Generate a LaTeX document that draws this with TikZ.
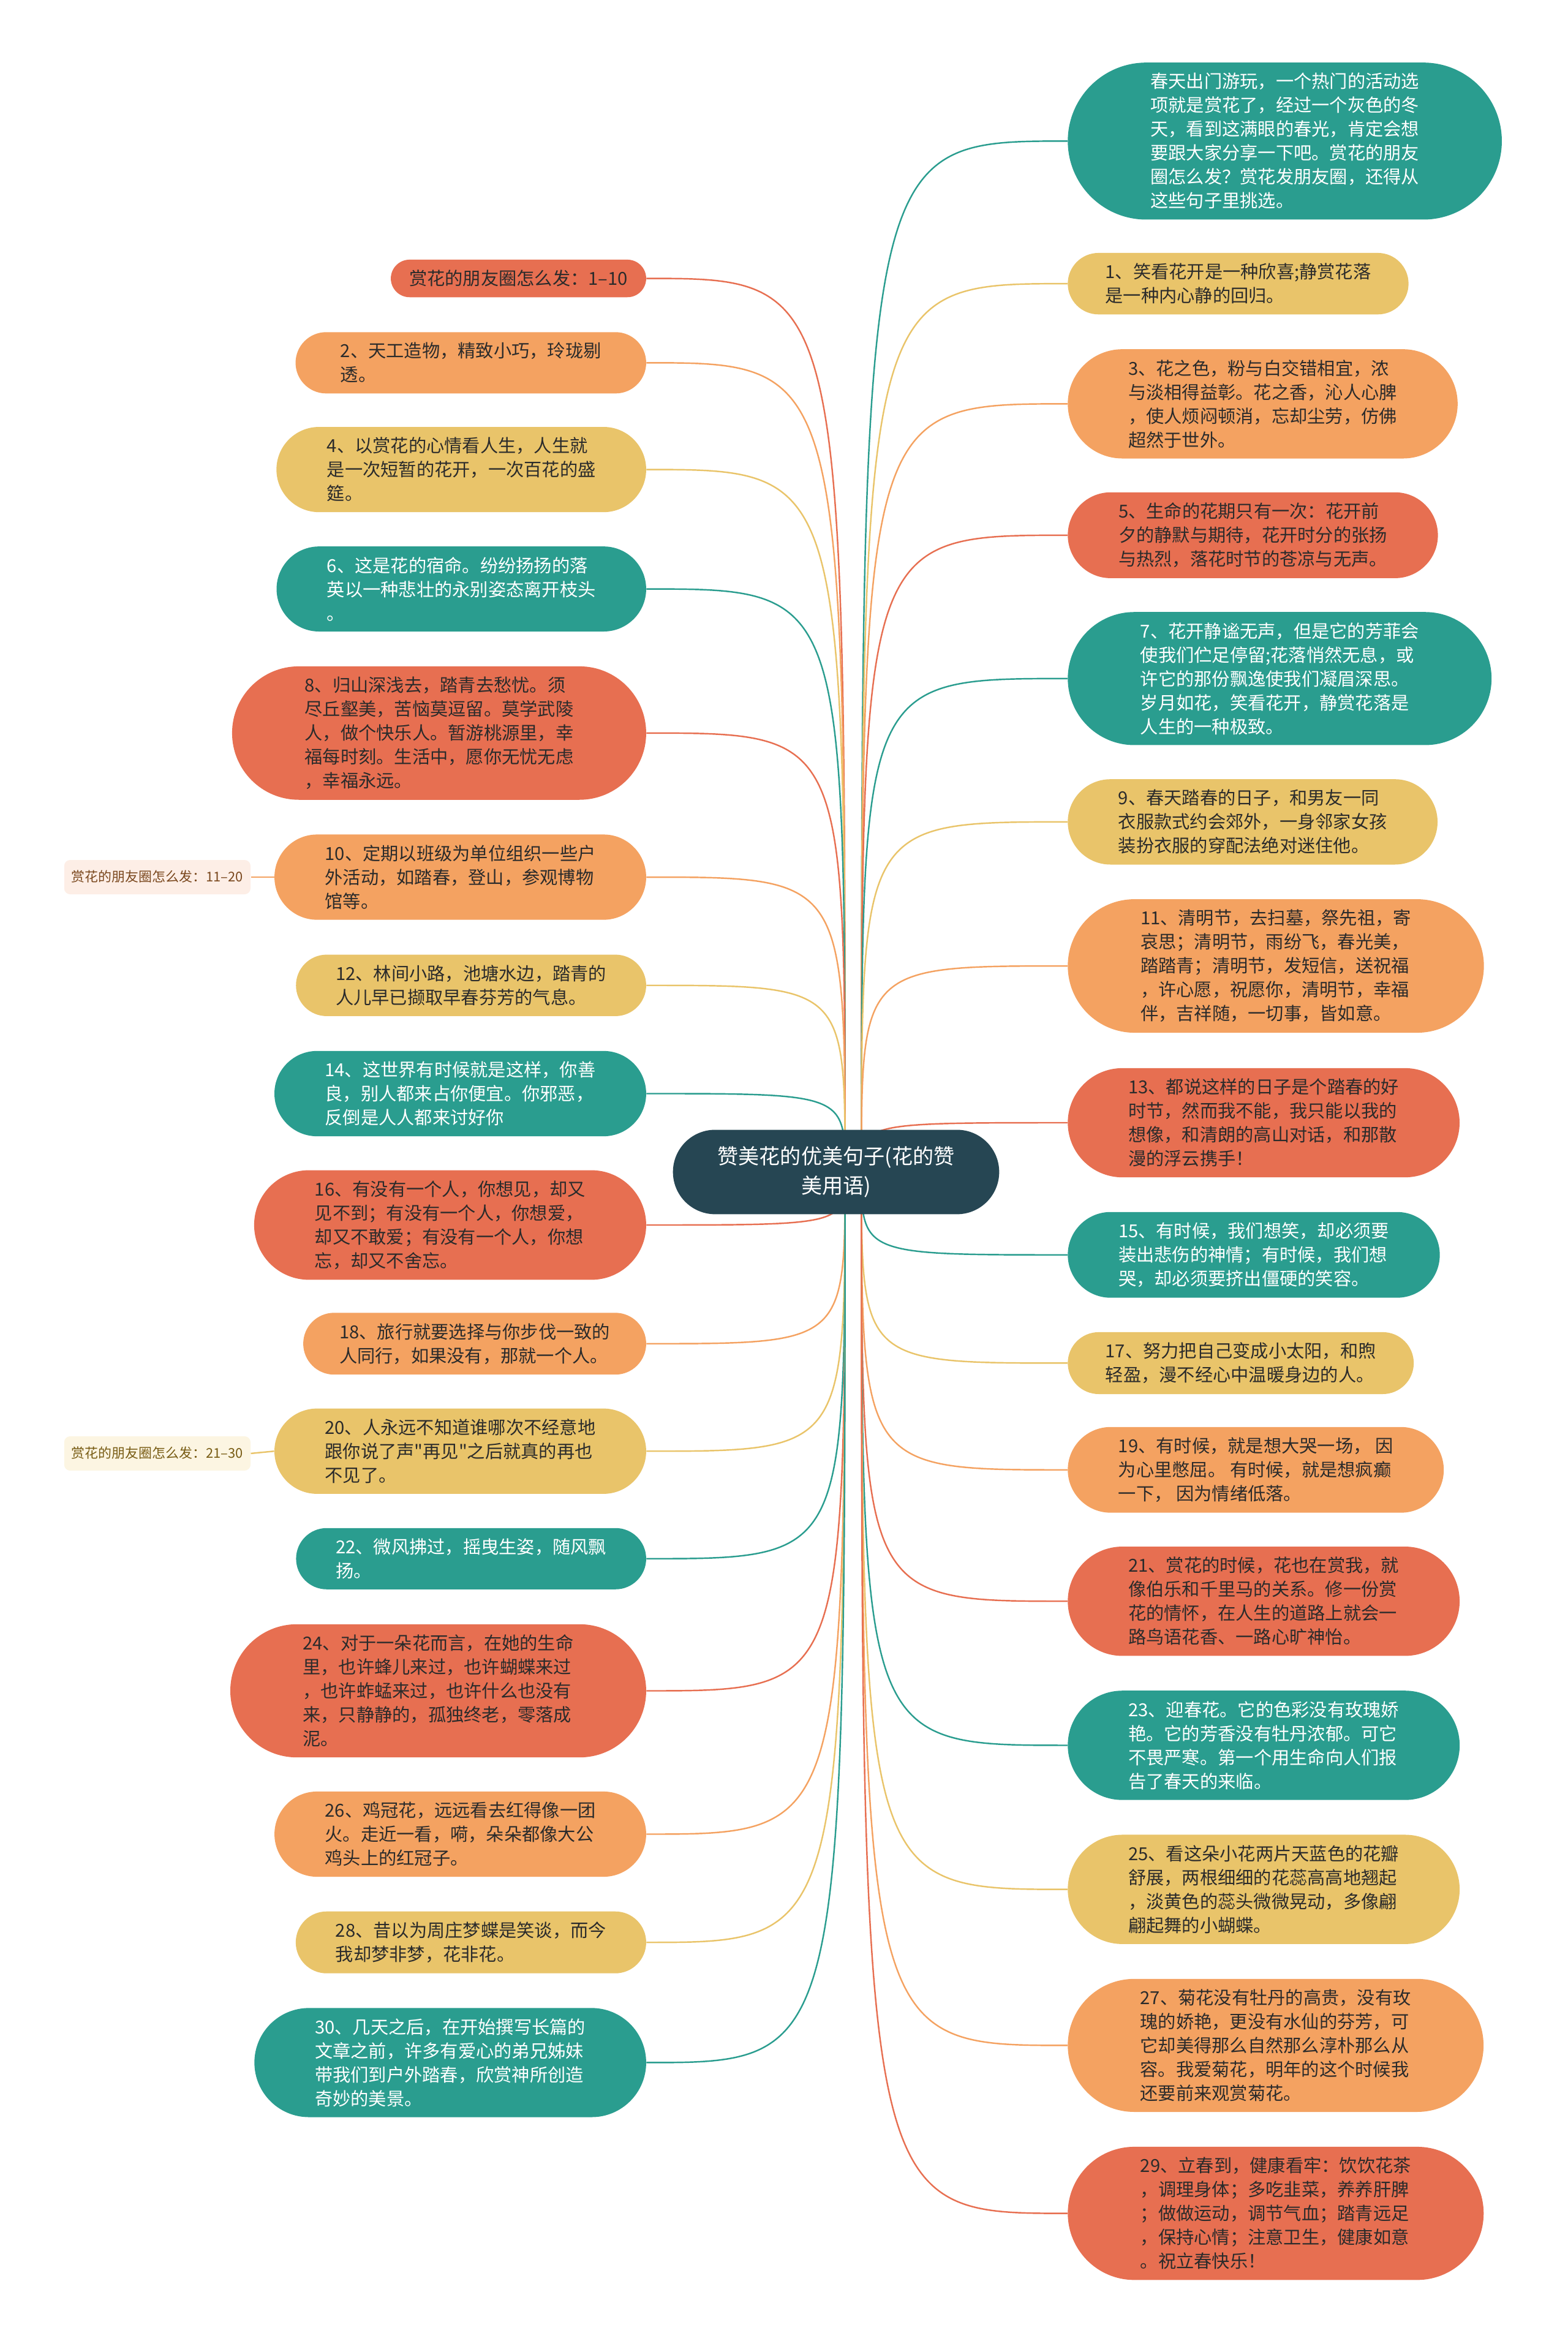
\documentclass[tikz,border=0pt]{standalone}
\usepackage{fontspec}
\setmainfont{Noto Sans CJK SC}[Ligatures=TeXOff]
\usetikzlibrary{shapes.misc,backgrounds}
\definecolor{mteal}{HTML}{2A9D8F}
\definecolor{myellow}{HTML}{E9C46A}
\definecolor{morange}{HTML}{F4A261}
\definecolor{mred}{HTML}{E76F51}
\definecolor{mdark}{HTML}{264653}
\definecolor{mtext}{HTML}{2B2B2B}
\tikzset{
  leaf/.style={rounded rectangle,inner xsep=24pt,inner ysep=7pt,align=left,text=mtext,font=\fontsize{12}{16}\selectfont},
  tall/.style={inner xsep=25.5pt},
  taller/.style={inner xsep=28pt},
  teal leaf/.style={leaf,fill=mteal,text=white},
  yellow leaf/.style={leaf,fill=myellow},
  orange leaf/.style={leaf,fill=morange},
  red leaf/.style={leaf,fill=mred},
  tag/.style={rounded corners=4pt,inner xsep=5pt,inner ysep=6.5pt,text height=8pt,text depth=2pt,font=\fontsize{9}{11}\selectfont},
  twig/.style={line width=1pt,to path={.. controls (\tikztotarget|-\tikztostart) .. (\tikztotarget)}}
}
\begin{document}
\begin{tikzpicture}[x=1pt,y=-1pt]
\useasboundingbox (0,0) rectangle (1050,1568);
\node[rounded rectangle,fill=mdark,text=white,align=center,inner xsep=24pt,inner ysep=11pt,font=\fontsize{14}{20}\selectfont] (root) at (560,785) {赞美花的优美句子(花的赞\\美用语)};
\coordinate (hubL) at (566,785);
\coordinate (hubR) at (577,785);
\node[teal leaf,anchor=west,inner xsep=29pt] (r0) at (715,94.5) {春天出门游玩，一个热门的活动选\\项就是赏花了，经过一个灰色的冬\\天，看到这满眼的春光，肯定会想\\要跟大家分享一下吧。赏花的朋友\\圈怎么发？赏花发朋友圈，还得从\\这些句子里挑选。};
\node[yellow leaf,anchor=west,inner xsep=20pt] (r1) at (715,190) {1、笑看花开是一种欣喜;静赏花落\\是一种内心静的回归。};
\node[orange leaf,anchor=west,tall] (r3) at (715,270.5) {3、花之色，粉与白交错相宜，浓\\与淡相得益彰。花之香，沁人心脾\\，使人烦闷顿消，忘却尘劳，仿佛\\超然于世外。};
\node[red leaf,anchor=west] (r5) at (715,358.5) {5、生命的花期只有一次：花开前\\夕的静默与期待，花开时分的张扬\\与热烈，落花时节的苍凉与无声。};
\node[teal leaf,anchor=west,taller] (r7) at (715,454.5) {7、花开静谧无声，但是它的芳菲会\\使我们伫足停留;花落悄然无息，或\\许它的那份飘逸使我们凝眉深思。\\岁月如花，笑看花开，静赏花落是\\人生的一种极致。};
\node[yellow leaf,anchor=west] (r9) at (715,550.5) {9、春天踏春的日子，和男友一同\\衣服款式约会郊外，一身邻家女孩\\装扮衣服的穿配法绝对迷住他。};
\node[orange leaf,anchor=west,taller] (r11) at (715,647) {11、清明节，去扫墓，祭先祖，寄\\哀思；清明节，雨纷飞，春光美，\\踏踏青；清明节，发短信，送祝福\\，许心愿，祝愿你，清明节，幸福\\伴，吉祥随，一切事，皆如意。};
\node[red leaf,anchor=west,tall] (r13) at (715,752) {13、都说这样的日子是个踏春的好\\时节，然而我不能，我只能以我的\\想像，和清朗的高山对话，和那散\\漫的浮云携手！};
\node[teal leaf,anchor=west] (r15) at (715,840.5) {15、有时候，我们想笑，却必须要\\装出悲伤的神情；有时候，我们想\\哭，却必须要挤出僵硬的笑容。};
\node[yellow leaf,anchor=west,inner xsep=20pt] (r17) at (715,913) {17、努力把自己变成小太阳，和煦\\轻盈，漫不经心中温暖身边的人。};
\node[orange leaf,anchor=west] (r19) at (715,984.5) {19、有时候，就是想大哭一场， 因\\为心里憋屈。 有时候，就是想疯癫\\一下， 因为情绪低落。};
\node[red leaf,anchor=west,tall] (r21) at (715,1072.5) {21、赏花的时候，花也在赏我，就\\像伯乐和千里马的关系。修一份赏\\花的情怀，在人生的道路上就会一\\路鸟语花香、一路心旷神怡。};
\node[teal leaf,anchor=west,tall] (r23) at (715,1169) {23、迎春花。它的色彩没有玫瑰娇\\艳。它的芳香没有牡丹浓郁。可它\\不畏严寒。第一个用生命向人们报\\告了春天的来临。};
\node[yellow leaf,anchor=west,tall] (r25) at (715,1265.5) {25、看这朵小花两片天蓝色的花瓣\\舒展，两根细细的花蕊高高地翘起\\，淡黄色的蕊头微微晃动，多像翩\\翩起舞的小蝴蝶。};
\node[orange leaf,anchor=west,taller] (r27) at (715,1370) {27、菊花没有牡丹的高贵，没有玫\\瑰的娇艳，更没有水仙的芬芳，可\\它却美得那么自然那么淳朴那么从\\容。我爱菊花，明年的这个时候我\\还要前来观赏菊花。};
\node[red leaf,anchor=west,taller] (r29) at (715,1482.5) {29、立春到，健康看牢：饮饮花茶\\，调理身体；多吃韭菜，养养肝脾\\；做做运动，调节气血；踏青远足\\，保持心情；注意卫生，健康如意\\。祝立春快乐！};
\node[red leaf,anchor=east,inner xsep=11pt] (l0) at (433,186.5) {赏花的朋友圈怎么发：1–10};
\node[orange leaf,anchor=east,inner xsep=25pt] (l2) at (433,243) {2、天工造物，精致小巧，玲珑剔\\透。};
\node[yellow leaf,anchor=east] (l4) at (433,314.5) {4、以赏花的心情看人生，人生就\\是一次短暂的花开，一次百花的盛\\筵。};
\node[teal leaf,anchor=east] (l6) at (433,394.5) {6、这是花的宿命。纷纷扬扬的落\\英以一种悲壮的永别姿态离开枝头\\。};
\node[red leaf,anchor=east,taller] (l8) at (433,491) {8、归山深浅去，踏青去愁忧。须\\尽丘壑美，苦恼莫逗留。莫学武陵\\人，做个快乐人。暂游桃源里，幸\\福每时刻。生活中，愿你无忧无虑\\，幸福永远。};
\node[orange leaf,anchor=east] (l10) at (433,587.5) {10、定期以班级为单位组织一些户\\外活动，如踏春，登山，参观博物\\馆等。};
\node[yellow leaf,anchor=east,inner xsep=21.5pt] (l12) at (433,660) {12、林间小路，池塘水边，踏青的\\人儿早已撷取早春芬芳的气息。};
\node[teal leaf,anchor=east] (l14) at (433,732.5) {14、这世界有时候就是这样，你善\\良，别人都来占你便宜。你邪恶，\\反倒是人人都来讨好你};
\node[red leaf,anchor=east,tall] (l16) at (433,820.5) {16、有没有一个人，你想见，却又\\见不到；有没有一个人，你想爱，\\却又不敢爱；有没有一个人，你想\\忘，却又不舍忘。};
\node[orange leaf,anchor=east,inner xsep=19pt] (l18) at (433,900) {18、旅行就要选择与你步伐一致的\\人同行，如果没有，那就一个人。};
\node[yellow leaf,anchor=east] (l20) at (433,972) {20、人永远不知道谁哪次不经意地\\跟你说了声"再见"之后就真的再也\\不见了。};
\node[teal leaf,anchor=east,inner xsep=21.5pt] (l22) at (433,1044) {22、微风拂过，摇曳生姿，随风飘\\扬。};
\node[red leaf,anchor=east,taller] (l24) at (433,1132.5) {24、对于一朵花而言，在她的生命\\里，也许蜂儿来过，也许蝴蝶来过\\，也许蚱蜢来过，也许什么也没有\\来，只静静的，孤独终老，零落成\\泥。};
\node[orange leaf,anchor=east] (l26) at (433,1228.5) {26、鸡冠花，远远看去红得像一团\\火。走近一看，嗬，朵朵都像大公\\鸡头上的红冠子。};
\node[yellow leaf,anchor=east,inner xsep=21.5pt] (l28) at (433,1301) {28、昔以为周庄梦蝶是笑谈，而今\\我却梦非梦，花非花。};
\node[teal leaf,anchor=east,tall] (l30) at (433,1381.5) {30、几天之后，在开始撰写长篇的\\文章之前，许多有爱心的弟兄姊妹\\带我们到户外踏春，欣赏神所创造\\奇妙的美景。};
\node[tag,fill={rgb,255:red,253;green,238;blue,230},text={rgb,255:red,122;green,72;blue,30},anchor=east] (g1) at (168,587.5) {赏花的朋友圈怎么发：11–20};
\node[tag,fill={rgb,255:red,252;green,245;blue,226},text={rgb,255:red,120;green,92;blue,20},anchor=east] (g2) at (168,973.5) {赏花的朋友圈怎么发：21–30};
\begin{scope}[on background layer]
\draw[twig,mteal] (r0.west) to (hubR);
\draw[twig,myellow] (r1.west) to (hubR);
\draw[twig,morange] (r3.west) to (hubR);
\draw[twig,mred] (r5.west) to (hubR);
\draw[twig,mteal] (r7.west) to (hubR);
\draw[twig,myellow] (r9.west) to (hubR);
\draw[twig,morange] (r11.west) to (hubR);
\draw[twig,mred] (r13.west) to (hubR);
\draw[twig,mteal] (r15.west) to (hubR);
\draw[twig,myellow] (r17.west) to (hubR);
\draw[twig,morange] (r19.west) to (hubR);
\draw[twig,mred] (r21.west) to (hubR);
\draw[twig,mteal] (r23.west) to (hubR);
\draw[twig,myellow] (r25.west) to (hubR);
\draw[twig,morange] (r27.west) to (hubR);
\draw[twig,mred] (r29.west) to (hubR);
\draw[twig,mred] (l0.east) to (hubL);
\draw[twig,morange] (l2.east) to (hubL);
\draw[twig,myellow] (l4.east) to (hubL);
\draw[twig,mteal] (l6.east) to (hubL);
\draw[twig,mred] (l8.east) to (hubL);
\draw[twig,morange] (l10.east) to (hubL);
\draw[twig,myellow] (l12.east) to (hubL);
\draw[twig,mteal] (l14.east) to (hubL);
\draw[twig,mred] (l16.east) to (hubL);
\draw[twig,morange] (l18.east) to (hubL);
\draw[twig,myellow] (l20.east) to (hubL);
\draw[twig,mteal] (l22.east) to (hubL);
\draw[twig,mred] (l24.east) to (hubL);
\draw[twig,morange] (l26.east) to (hubL);
\draw[twig,myellow] (l28.east) to (hubL);
\draw[twig,mteal] (l30.east) to (hubL);
\draw[line width=1pt,morange] (g1.east) -- (l10.west);
\draw[line width=1pt,myellow] (g2.east) -- (l20.west);
\end{scope}
\end{tikzpicture}
\end{document}
